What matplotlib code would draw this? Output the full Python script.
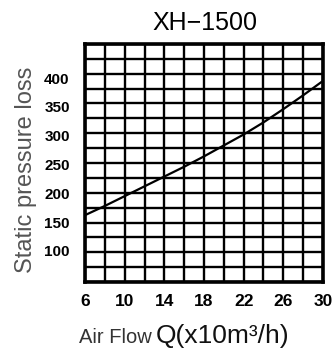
import numpy as np
import matplotlib
matplotlib.use("Agg")
import matplotlib.pyplot as plt

plt.rcParams['font.family'] = ['Liberation Sans', 'DejaVu Sans']

# Data
air_flow = [6, 8, 10, 12, 14, 16, 18, 20, 22, 24, 26, 28, 30]
pressure = [162, 178, 195, 212, 229, 246, 264, 283, 302, 323, 346, 370, 395]
x_ticks = [6, 10, 14, 18, 22, 26, 30]
y_ticks = [100, 150, 200, 250, 300, 350, 400]
title = "XH\u22121500"

W, H = 334, 348
fig = plt.figure(figsize=(W / 100, H / 100), dpi=100)
ax = fig.add_axes([85 / W, 1 - 282 / H, (323 - 85) / W, (282 - 44) / H])

xlim = (6, 30)
ylim = (46, 459)
ax.set_xlim(*xlim)
ax.set_ylim(*ylim)

# grid: 12 columns, 16 rows
for xv in np.arange(6, 31, 2):
    ax.axvline(xv, color='black', lw=1.7, zorder=1)
for yv in np.linspace(ylim[0], ylim[1], 17):
    ax.axhline(yv, color='black', lw=1.7, zorder=1)

ax.plot(air_flow, pressure, color='black', lw=1.6, zorder=3)

for s in ax.spines.values():
    s.set_linewidth(2.6)
    s.set_color('black')

ax.set_xticks(x_ticks)
ax.set_xticklabels([str(v) for v in x_ticks], fontsize=12.5, fontweight='bold')
ax.set_yticks(y_ticks)
ax.set_yticklabels([str(v) for v in y_ticks], fontsize=11, fontweight='bold')
ax.tick_params(axis='x', length=0, pad=9)
ax.tick_params(axis='y', length=0, pad=11)

fig.text(205 / W, 1 - 30 / H, title, ha='center', va='baseline', fontsize=18, color='black')
fig.text(26 / W, 1 - 170 / H, "Static pressure loss", rotation=90, ha='center', va='center',
         fontsize=17, color='#555555')
fig.text(152 / W, 1 - 343 / H, "Air Flow", ha='right', va='baseline', fontsize=14.5, color='#333333')
fig.text(156 / W, 1 - 343 / H, "Q(x10m\u00b3/h)", ha='left', va='baseline', fontsize=19, color='#111111')

fig.savefig("out.png", dpi=100)
